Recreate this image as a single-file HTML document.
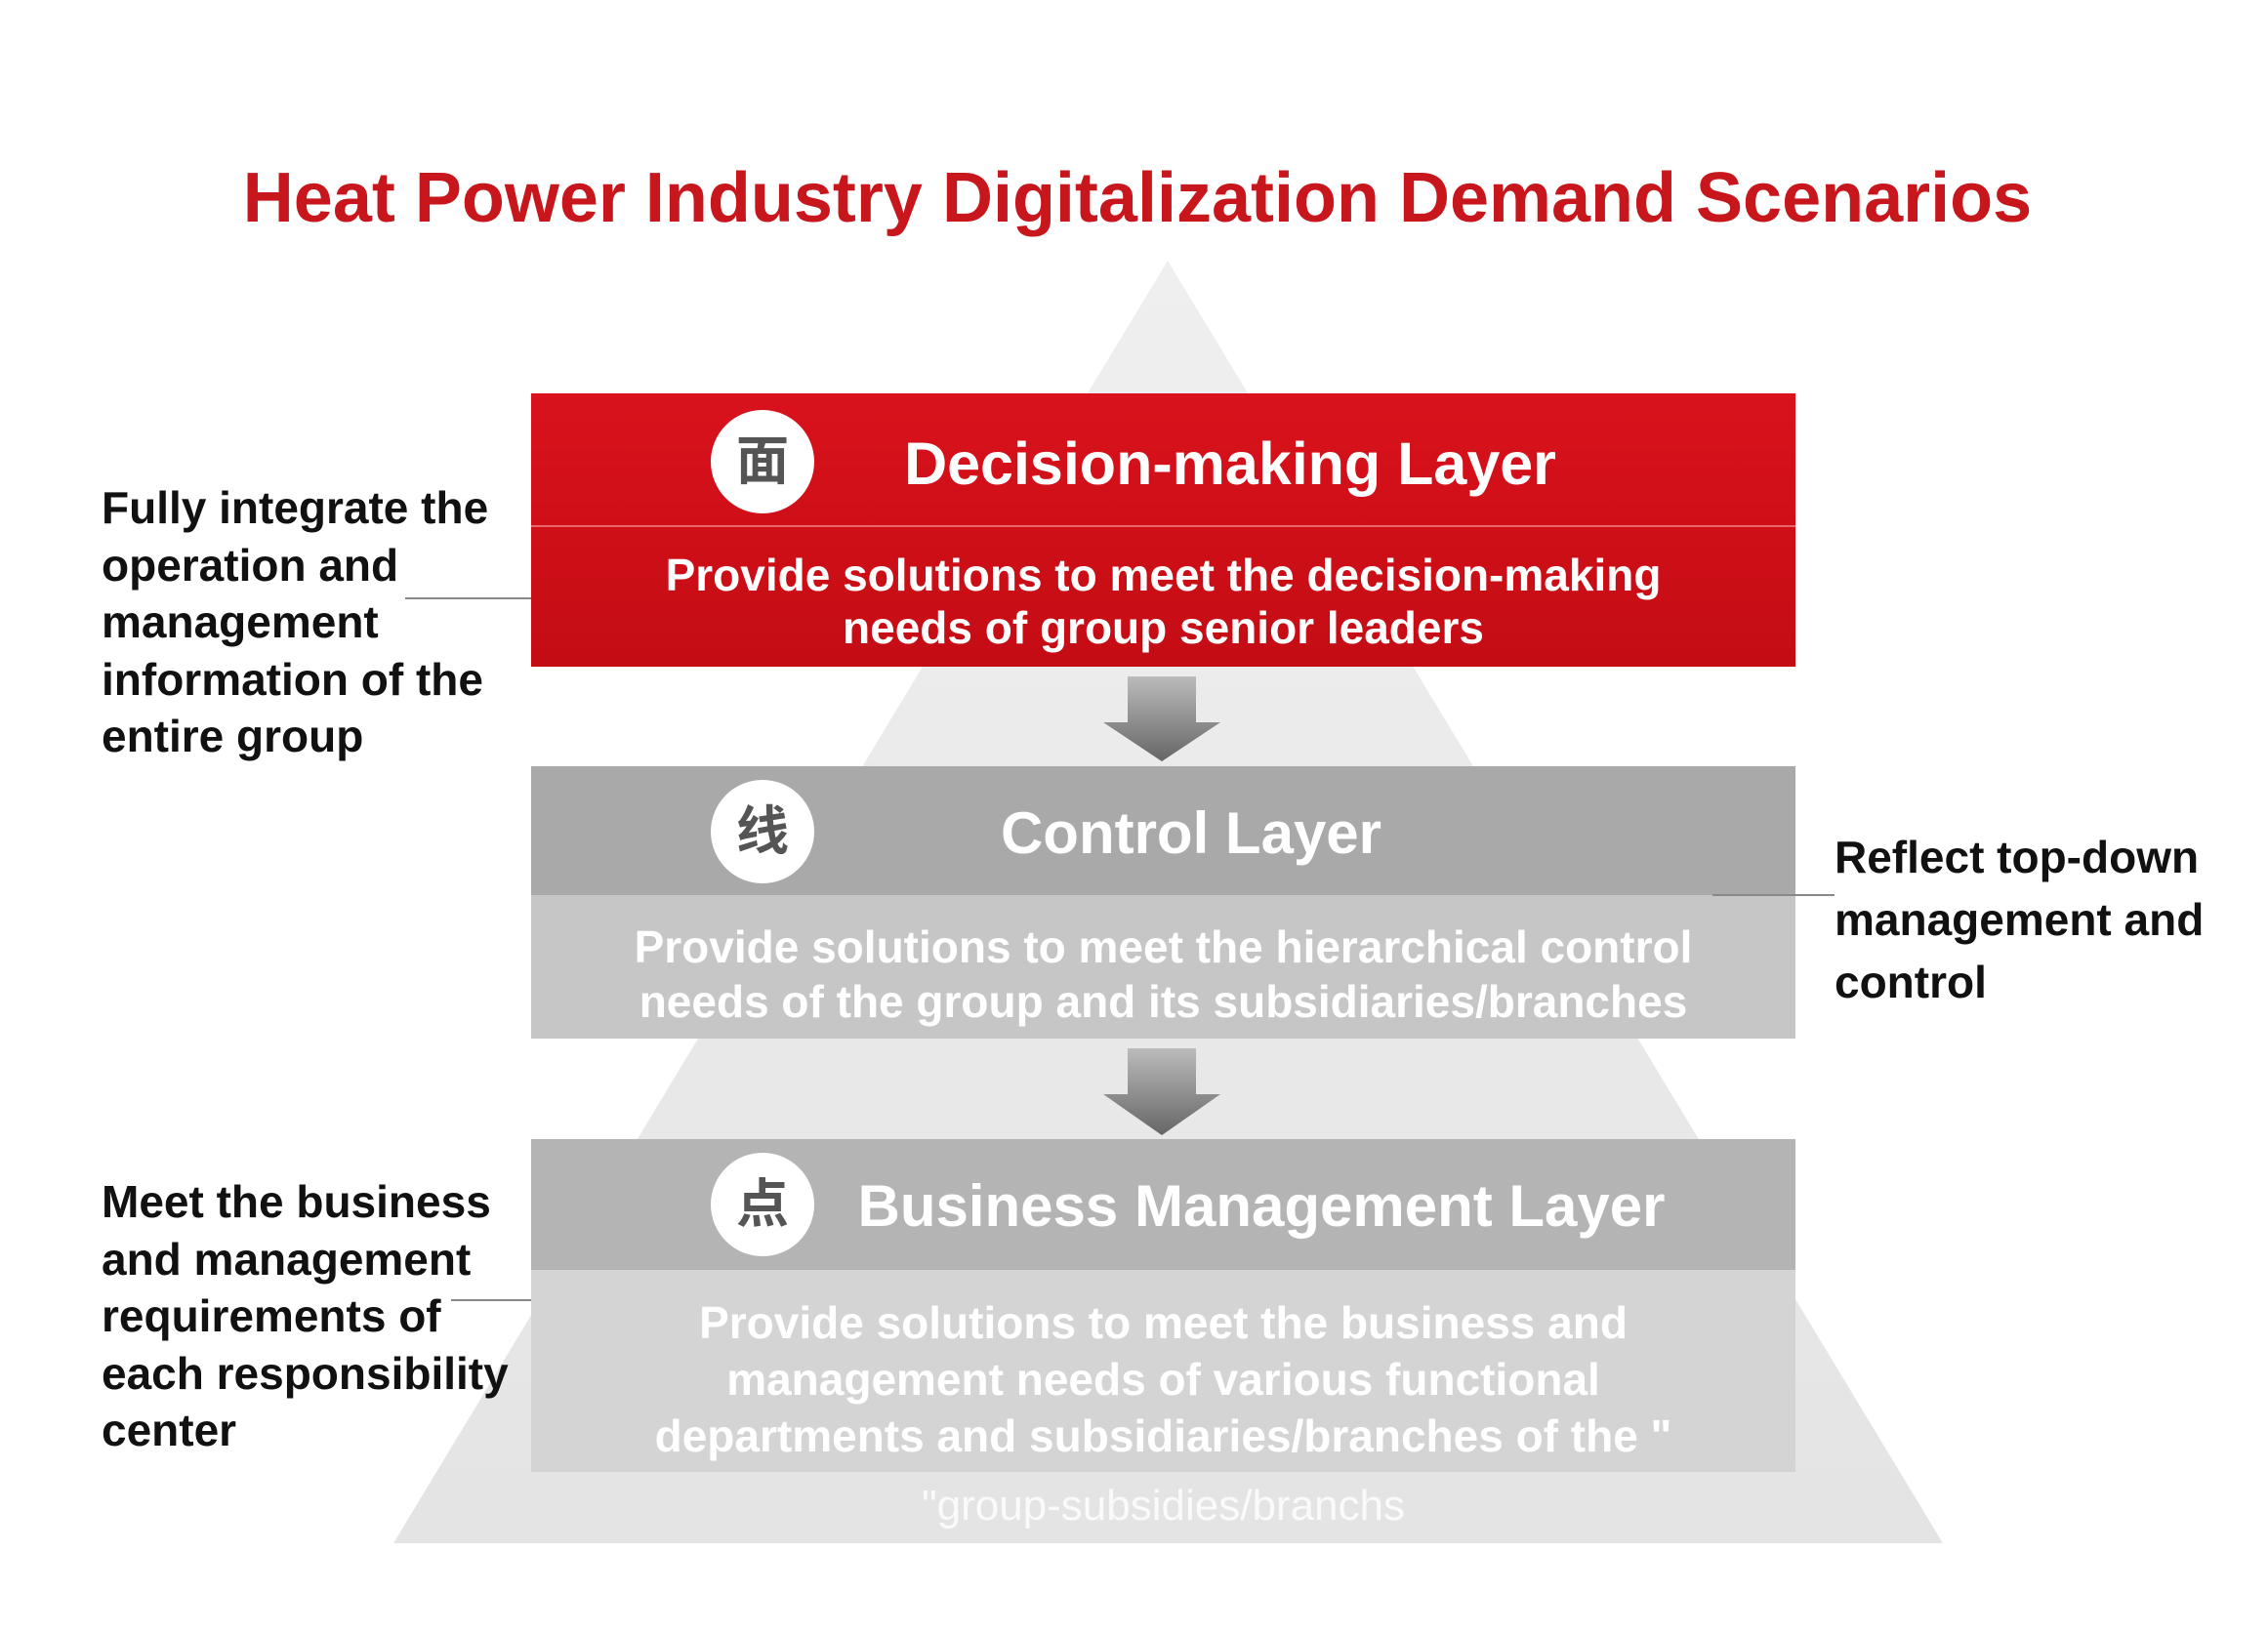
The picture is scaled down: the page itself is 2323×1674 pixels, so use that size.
<!DOCTYPE html>
<html><head><meta charset="utf-8"><style>
body{margin:0;width:2323px;height:1674px;background:#fff;overflow:hidden;position:relative;font-family:"Liberation Sans","Noto Sans CJK SC",sans-serif}
.a{position:absolute}
.t{position:absolute;font-weight:bold;white-space:nowrap}
.c{text-align:center;left:544px;width:1295px}
.side{font-size:46px;color:#111;line-height:58.5px;font-weight:bold}
.circ{position:absolute;width:106px;height:106px;border-radius:50%;background:#fff;color:#555;font-size:54px;text-align:center;line-height:106px;font-weight:bold}
</style></head><body>
<svg class="a" style="left:0;top:0" width="2323" height="1674">
<defs><linearGradient id="g" x1="0" y1="0" x2="0" y2="1"><stop offset="0" stop-color="#efefef"/><stop offset="1" stop-color="#e4e4e4"/></linearGradient>
<linearGradient id="ar" x1="0" y1="0" x2="0" y2="1"><stop offset="0" stop-color="#bbb"/><stop offset="1" stop-color="#666"/></linearGradient>
<linearGradient id="r" x1="0" y1="0" x2="0" y2="1"><stop offset="0" stop-color="#d9121c"/><stop offset="1" stop-color="#c40c14"/></linearGradient></defs>
<polygon points="1196,267 403,1581 1990,1581" fill="url(#g)"/>
<rect x="544" y="403" width="1295" height="280" fill="url(#r)"/>
<line x1="544" y1="539" x2="1839" y2="539" stroke="#e8666b" stroke-width="2"/>
<rect x="544" y="785" width="1295" height="132" fill="#a9a9a9"/>
<rect x="544" y="917" width="1295" height="147" fill="#c6c6c6"/>
<rect x="544" y="1167" width="1295" height="134" fill="#b4b4b4"/>
<rect x="544" y="1301" width="1295" height="207" fill="#d4d4d4"/>
<polygon points="1155,693 1225,693 1225,740 1250,740 1190,780 1130,740 1155,740" fill="url(#ar)"/>
<polygon points="1155,1074 1225,1074 1225,1121 1250,1121 1190,1163 1130,1121 1155,1121" fill="url(#ar)"/>
<line x1="415" y1="613" x2="544" y2="613" stroke="#888" stroke-width="2"/>
<line x1="1754" y1="917" x2="1879" y2="917" stroke="#888" stroke-width="2"/>
<line x1="462" y1="1332" x2="544" y2="1332" stroke="#888" stroke-width="2"/>
</svg>
<div class="t" style="left:0;width:2330px;text-align:center;top:162px;font-size:72px;color:#c8161d">Heat Power Industry Digitalization Demand Scenarios</div>
<div class="circ" style="left:728px;top:420px;color:#555">面</div>
<div class="circ" style="left:728px;top:799px">线</div>
<div class="circ" style="left:728px;top:1181px">点</div>
<div class="t" style="left:780px;width:960px;text-align:center;top:440px;font-size:61px;color:#fff">Decision-making Layer</div>
<div class="t" style="left:780px;width:880px;text-align:center;top:819px;font-size:60px;color:#fff">Control Layer</div>
<div class="t" style="left:812px;width:960px;text-align:center;top:1201px;font-size:60px;color:#fff">Business Management Layer</div>
<div class="t c" style="top:562px;font-size:46px;line-height:54px;color:#fff">Provide solutions to meet the decision-making<br>needs of group senior leaders</div>
<div class="t c" style="top:942px;font-size:46px;line-height:56px;color:#fff">Provide solutions to meet the hierarchical control<br>needs of the group and its subsidiaries/branches</div>
<div class="t c" style="top:1326px;font-size:46px;line-height:58px;color:#fff">Provide solutions to meet the business and<br>management needs of various functional<br>departments and subsidiaries/branches of the "</div>
<div class="t c" style="top:1518px;font-size:44px;color:#fafafa;font-weight:normal">"group-subsidies/branchs</div>
<div class="t side" style="left:104px;top:491px">Fully integrate the<br>operation and<br>management<br>information of the<br>entire group</div>
<div class="t side" style="left:1879px;top:846px;line-height:64px">Reflect top-down<br>management and<br>control</div>
<div class="t side" style="left:104px;top:1202px">Meet the business<br>and management<br>requirements of<br>each responsibility<br>center</div>
</body></html>
